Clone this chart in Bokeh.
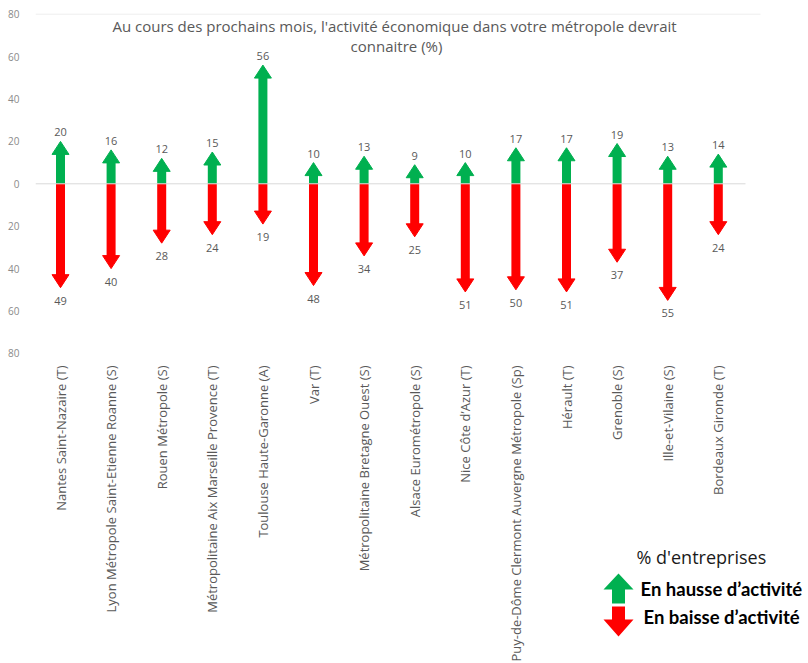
import numpy as np
from bokeh.plotting import figure
from bokeh.models import Range1d, ColumnDataSource, FixedTicker
from bokeh.core.properties import value
from bokeh.embed import file_html
from bokeh.resources import INLINE

# ---------------- data ----------------
categories = [
    "Nantes Saint-Nazaire (T)",
    "Lyon Métropole Saint-Etienne Roanne (S)",
    "Rouen Métropole (S)",
    "Métropolitaine Aix Marseille Provence (T)",
    "Toulouse Haute-Garonne (A)",
    "Var (T)",
    "Métropolitaine Bretagne Ouest (S)",
    "Alsace Eurométropole (S)",
    "Nice Côte d’Azur (T)",
    "Puy-de-Dôme Clermont Auvergne Métropole (Sp)",
    "Hérault (T)",
    "Grenoble (S)",
    "Ille-et-Vilaine (S)",
    "Bordeaux Gironde (T)",
]
hausse = [20, 16, 12, 15, 56, 10, 13, 9, 10, 17, 17, 19, 13, 14]
baisse = [49, 40, 28, 24, 19, 48, 34, 25, 51, 50, 51, 37, 55, 24]
y_ticks = [-80, -60, -40, -20, 0, 20, 40, 60, 80]
y_tick_labels = [str(abs(t)) for t in y_ticks]

title_line1 = "Au cours des prochains mois, l'activité économique  dans votre métropole devrait"
title_line2 = "connaitre (%)"
legend_title = "% d'entreprises"
legend_up = "En hausse d’activité"
legend_down = "En baisse d’activité"

GREEN = "#00B050"
RED = "#FF0000"
GREY = "#595959"

# ---------------- layout helpers (pixel -> data) ----------------
W, H = 808, 663
LEFT = 35
X0, DX = 60.0, 50.6      # px of first category, px per category
Y0, DY = 183.3, 2.12     # px of zero, px per unit


def xd(px):
    return (px - X0) / DX


def yd(py):
    return (Y0 - py) / DY


p = figure(width=W, height=H,
           x_range=Range1d(xd(LEFT), xd(W)), y_range=Range1d(yd(H), yd(0)),
           output_backend="svg", toolbar_location=None,
           x_axis_location=None, y_axis_location="left",
           min_border_left=LEFT, min_border_right=0,
           min_border_top=0, min_border_bottom=0)
p.outline_line_color = None
p.background_fill_color = "white"
p.border_fill_color = "white"
p.xgrid.visible = False
p.ygrid.visible = False

ax = p.yaxis[0]
ax.ticker = FixedTicker(ticks=y_ticks)
ax.major_label_overrides = {t: l for t, l in zip(y_ticks, y_tick_labels)}
ax.axis_line_color = None
ax.major_tick_line_color = None
ax.minor_tick_line_color = None
ax.major_label_standoff = 10
ax.major_label_text_font = "Open Sans"
ax.major_label_text_font_size = "10px"
ax.major_label_text_color = "#8a8a8a"

n = len(categories)
idx = np.arange(n, dtype=float)
up = np.array(hausse, dtype=float)
dn = -np.array(baisse, dtype=float)

# faint top line
p.segment(x0=[xd(LEFT)], y0=[80], x1=[xd(760)], y1=[80], line_color="#eeeeee", line_width=1)

# arrows
shaft_w = 9.0 / DX
head_hw = 8.5 / DX
head_len = 13.0 / DY

p.vbar(x=idx, bottom=0, top=up - head_len * 0.9, width=shaft_w, fill_color=GREEN, line_color=None)
p.vbar(x=idx, top=0, bottom=dn + head_len * 0.9, width=shaft_w, fill_color=RED, line_color=None)

up_xs = [[i - head_hw, i + head_hw, i] for i in idx]
up_ys = [[v - head_len, v - head_len, v] for v in up]
dn_xs = [[i - head_hw, i + head_hw, i] for i in idx]
dn_ys = [[v + head_len, v + head_len, v] for v in dn]
p.patches(up_xs, up_ys, fill_color=GREEN, line_color=GREEN, line_width=1, line_join="round")
p.patches(dn_xs, dn_ys, fill_color=RED, line_color=RED, line_width=1, line_join="round")

# zero line
p.segment(x0=[xd(LEFT)], y0=[0], x1=[xd(745)], y1=[0], line_color="#d9d9d9", line_width=1)

# value labels
p.text(x=idx, y=up, text=[str(v) for v in hausse], y_offset=-9,
       text_align="center", text_baseline="middle",
       text_font=value("Open Sans"), text_font_size="11px", text_color=GREY)
p.text(x=idx, y=dn, text=[str(v) for v in baisse], y_offset=13,
       text_align="center", text_baseline="middle",
       text_font=value("Open Sans"), text_font_size="11px", text_color=GREY)

# category labels (rotated)
p.text(x=idx, y=[yd(365)] * n, text=categories, angle=np.pi / 2,
       text_align="right", text_baseline="middle",
       text_font=value("Open Sans"), text_font_size="13px", text_color=GREY)

# title
p.text(x=[xd(396), xd(396)], y=[yd(25), yd(45)], text=[title_line1, title_line2],
       text_align="center", text_baseline="middle",
       text_font=value("Open Sans"), text_font_size="15px", text_color=GREY)

# legend
p.text(x=[xd(636)], y=[yd(556)], text=[legend_title], text_align="left", text_baseline="middle",
       text_font=value("Open Sans"), text_font_size="18px", text_color="#1a1a1a")
p.text(x=[xd(640)], y=[yd(588)], text=[legend_up], text_align="left", text_baseline="middle",
       text_font=value("Lato"), text_font_style="bold", text_font_size="18.5px", text_color="black")
p.text(x=[xd(643)], y=[yd(616)], text=[legend_down], text_align="left", text_baseline="middle",
       text_font=value("Lato"), text_font_style="bold", text_font_size="18.5px", text_color="black")

cx = 618
sw, hw = 6.5, 15
lg_up_x = [xd(cx - sw), xd(cx + sw), xd(cx + sw), xd(cx + hw), xd(cx), xd(cx - hw), xd(cx - sw)]
lg_up_y = [yd(603), yd(603), yd(589), yd(589), yd(573), yd(589), yd(589)]
lg_dn_x = [xd(cx - sw), xd(cx + sw), xd(cx + sw), xd(cx + hw), xd(cx), xd(cx - hw), xd(cx - sw)]
lg_dn_y = [yd(606), yd(606), yd(619), yd(619), yd(636), yd(619), yd(619)]
p.patch(lg_up_x, lg_up_y, fill_color=GREEN, line_color=None)
p.patch(lg_dn_x, lg_dn_y, fill_color=RED, line_color=None)

open("out.html", "w").write(file_html(p, INLINE))
